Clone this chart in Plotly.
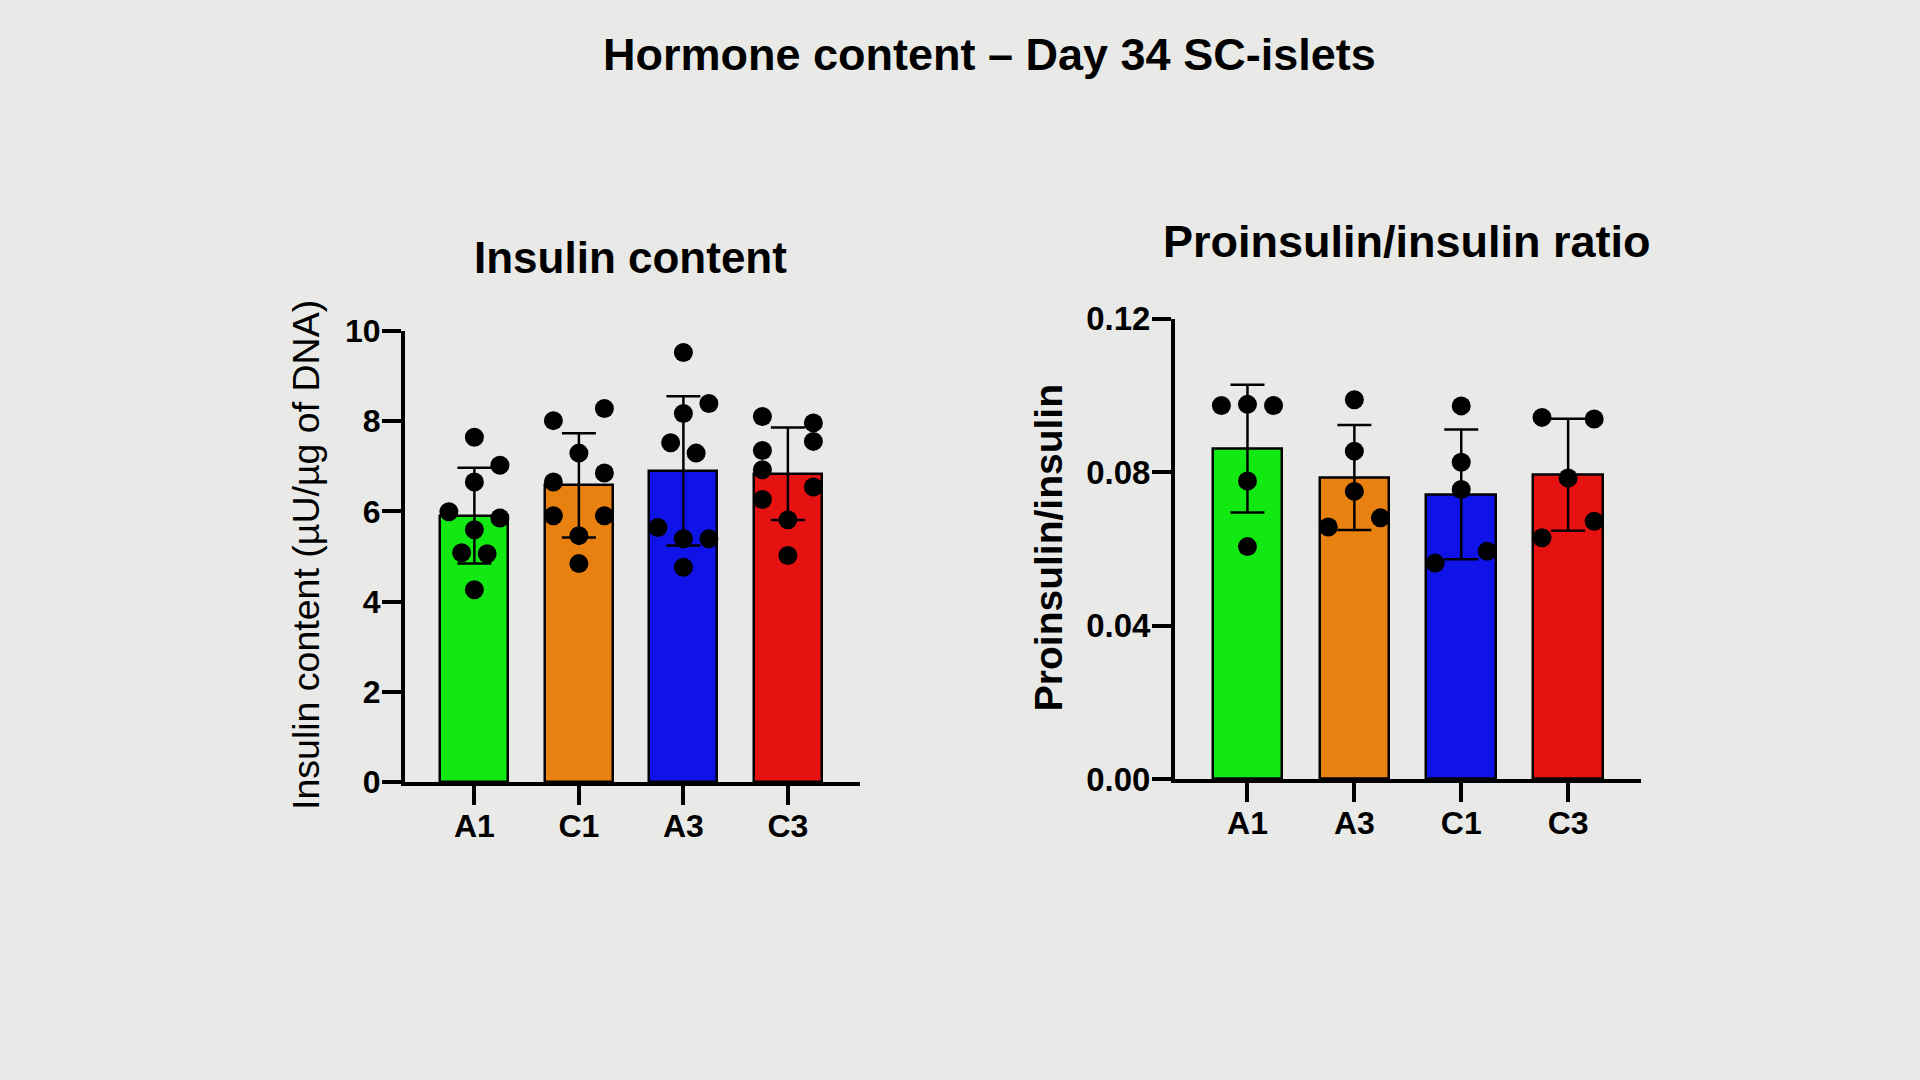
import numpy as np
import plotly.graph_objects as go
from plotly.subplots import make_subplots

# ---- data ----
insulin_groups = ["A1", "C1", "A3", "C3"]
insulin_A1 = [7.64, 7.02, 6.65, 5.99, 5.85, 5.59, 5.08, 5.06, 4.26]
insulin_C1 = [8.01, 8.28, 7.29, 6.85, 6.65, 5.90, 5.90, 5.46, 4.84]
insulin_A3 = [9.52, 8.39, 8.17, 7.52, 7.29, 5.64, 5.39, 5.39, 4.76]
insulin_C3 = [8.10, 7.96, 7.35, 7.55, 6.92, 6.54, 6.26, 5.81, 5.02]

ratio_groups = ["A1", "A3", "C1", "C3"]
ratio_A1 = [0.0974, 0.0977, 0.0974, 0.0777, 0.0606]
ratio_A3 = [0.0989, 0.0855, 0.0750, 0.0657, 0.0681]
ratio_C1 = [0.0973, 0.0826, 0.0755, 0.0563, 0.0594]
ratio_C3 = [0.0943, 0.0939, 0.0785, 0.0629, 0.0672]

insulin_ticks = [0, 2, 4, 6, 8, 10]
ratio_ticks = [0.00, 0.04, 0.08, 0.12]

# ---- layout helpers: scatter slot of each dot (beeswarm style) ----
insulin_slots = [
    [0, 2, 0, -2, 2, 0, -1, 1, 0],
    [-2, 2, 0, 2, -2, -2, 2, 0, 0],
    [0, 2, 0, -1, 1, -2, 0, 2, 0],
    [-2, 2, -2, 2, -2, 2, -2, 0, 0],
]
ratio_slots = [
    [-2, 0, 2, 0, 0],
    [0, 0, 0, -2, 2],
    [0, 0, 0, -2, 2],
    [-2, 2, 0, -2, 2],
]
SLOT = 0.122

colors = ["#12e812", "#e8810f", "#1013e8", "#e61212"]
bg = "#e9eae8"
font_family = "Liberation Sans, Arial, sans-serif"
W, H = 1920, 1080


def px_x(x):
    return x / W


def px_y(y):
    return 1 - y / H


fig = make_subplots(rows=1, cols=2)


def add_panel(groups, series, slots, col):
    means = [np.mean(v) for v in series]
    sds = [np.std(v, ddof=1) for v in series]
    fig.add_trace(
        go.Bar(
            x=list(range(len(groups))),
            y=means,
            width=0.65,
            marker=dict(color=colors, line=dict(color="black", width=2.5)),
            error_y=dict(type="data", array=sds, visible=True,
                         color="black", thickness=2.5, width=17),
            showlegend=False,
        ),
        row=1, col=col,
    )
    xs, ys = [], []
    for i, (vals, sl) in enumerate(zip(series, slots)):
        xs += [i + s * SLOT for s in sl]
        ys += vals
    fig.add_trace(
        go.Scatter(
            x=xs, y=ys, mode="markers",
            marker=dict(color="black", size=19),
            showlegend=False,
        ),
        row=1, col=col,
    )


add_panel(insulin_groups, [insulin_A1, insulin_C1, insulin_A3, insulin_C3],
          insulin_slots, 1)
add_panel(ratio_groups, [ratio_A1, ratio_A3, ratio_C1, ratio_C3],
          ratio_slots, 2)

axis_common = dict(
    showline=True, linecolor="black", linewidth=4,
    ticks="outside", ticklen=19, tickwidth=4, tickcolor="black",
    showgrid=False, zeroline=False,
    tickfont=dict(family=font_family, size=32, color="black", weight="bold"),
)

fig.update_xaxes(**axis_common, ticklabelstandoff=-6)
fig.update_yaxes(**axis_common, ticklabelstandoff=-5)

fig.update_xaxes(
    domain=[px_x(405), px_x(860)], range=[-0.664, 3.69],
    tickvals=list(range(4)), ticktext=insulin_groups,
    row=1, col=1,
)
fig.update_xaxes(
    domain=[px_x(1175), px_x(1641)], range=[-0.678, 3.682],
    tickvals=list(range(4)), ticktext=ratio_groups,
    row=1, col=2,
)
fig.update_yaxes(
    domain=[px_y(791), px_y(324)], range=[0, 10],
    tickvals=insulin_ticks,
    row=1, col=1,
)
fig.update_yaxes(
    domain=[px_y(788), px_y(311.5)], range=[0, 0.12],
    tickvals=ratio_ticks, tickformat=".2f",
    tickfont_size=33,
    row=1, col=2,
)

annotations = [
    dict(text="<b>Hormone content – Day 34 SC-islets</b>",
         x=px_x(989), y=px_y(38), font=dict(size=45)),
    dict(text="<b>Insulin content</b>",
         x=px_x(630), y=px_y(248), font=dict(size=44)),
    dict(text="<b>Proinsulin/insulin ratio</b>",
         x=px_x(1407), y=px_y(231), font=dict(size=45)),
    dict(text="Insulin content (µU/µg of DNA)",
         x=px_x(306), y=px_y(556), textangle=-90, font=dict(size=37.5)),
    dict(text="<b>Proinsulin/insulin</b>",
         x=px_x(1048), y=px_y(549), textangle=-90, font=dict(size=39)),
]
for a in annotations:
    a.update(xref="paper", yref="paper", showarrow=False,
             xanchor="center", yanchor="middle")
    a["font"].update(family=font_family, color="black")

fig.update_layout(
    width=W, height=H,
    margin=dict(l=0, r=0, t=0, b=0),
    paper_bgcolor=bg, plot_bgcolor=bg,
    annotations=annotations,
    bargap=0,
)

fig.write_html(
    "out.html",
    config={"displayModeBar": False},
    post_script="document.body.style.margin='0';"
                "document.body.style.overflow='hidden';",
)
